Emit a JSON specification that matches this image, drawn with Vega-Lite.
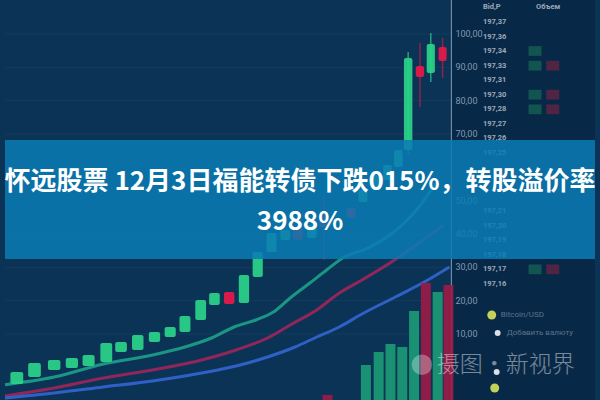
{
  "$schema": "https://vega.github.io/schema/vega-lite/v6.json",
  "width": 600,
  "height": 400,
  "autosize": {"type": "none"},
  "padding": 0,
  "background": "#0b3356",
  "config": {"view": {"stroke": null}},
  "data": {"values": [{"one": 1}]},
  "datasets": {
    "candles": [
      {"t": 12, "open": -5.0, "close": -1.4, "dir": "up"},
      {"t": 30, "open": -2.9, "close": 1.3, "dir": "up"},
      {"t": 50, "open": -0.8, "close": 2.2, "dir": "up"},
      {"t": 68, "open": -0.2, "close": 2.8, "dir": "up"},
      {"t": 85, "open": 0.4, "close": 3.7, "dir": "up"},
      {"t": 103, "open": 1.6, "close": 7.3, "dir": "up"},
      {"t": 118, "open": 4.6, "close": 7.6, "dir": "up"},
      {"t": 135, "open": 5.2, "close": 9.7, "dir": "up"},
      {"t": 152, "open": 7.6, "close": 10.6, "dir": "up"},
      {"t": 168, "open": 9.1, "close": 12.1, "dir": "up"},
      {"t": 183, "open": 10.6, "close": 15.4, "dir": "up"},
      {"t": 199, "open": 14.2, "close": 20.2, "dir": "up"},
      {"t": 213, "open": 18.7, "close": 22.3, "dir": "up"},
      {"t": 228, "open": 22.6, "close": 19.0, "dir": "down"},
      {"t": 243, "open": 19.3, "close": 27.7, "dir": "up"},
      {"t": 257, "open": 27.1, "close": 34.6, "dir": "up"},
      {"t": 271, "open": 34.6, "close": 40.3, "dir": "up"},
      {"t": 285, "open": 38.2, "close": 41.2, "dir": "up"},
      {"t": 298, "open": 41.8, "close": 38.2, "dir": "down"},
      {"t": 312, "open": 38.8, "close": 42.7, "dir": "up"},
      {"t": 324, "open": 46.0, "close": 42.0, "dir": "down", "low": 32.2, "high": 51.7},
      {"t": 352, "open": 47.8, "close": 44.8, "dir": "down"},
      {"t": 364, "open": 49.6, "close": 53.2, "dir": "up"},
      {"t": 378, "open": 53.2, "close": 57.7, "dir": "up"},
      {"t": 389, "open": 56.2, "close": 60.7, "dir": "up"},
      {"t": 400, "open": 60.1, "close": 65.2, "dir": "up"},
      {"t": 410, "open": 65.2, "close": 92.8, "dir": "up", "low": 64.0, "high": 94.6},
      {"t": 422, "open": 90.4, "close": 87.1, "dir": "down", "low": 78.1, "high": 97.3},
      {"t": 433, "open": 88.3, "close": 97.0, "dir": "up", "low": 85.6, "high": 100.3},
      {"t": 445, "open": 96.1, "close": 91.9, "dir": "down", "low": 86.8, "high": 98.8}
    ],
    "ma": [
      {"s": "MA5", "t": 0, "v": -5.2}, {"s": "MA5", "t": 50, "v": -2.9}, {"s": "MA5", "t": 100, "v": 1.0},
      {"s": "MA5", "t": 150, "v": 3.7}, {"s": "MA5", "t": 183, "v": 6.1}, {"s": "MA5", "t": 210, "v": 8.8},
      {"s": "MA5", "t": 233, "v": 12.1}, {"s": "MA5", "t": 255, "v": 14.2}, {"s": "MA5", "t": 273, "v": 16.6},
      {"s": "MA5", "t": 290, "v": 20.8}, {"s": "MA5", "t": 310, "v": 25.3}, {"s": "MA5", "t": 327, "v": 29.2},
      {"s": "MA5", "t": 345, "v": 33.1}, {"s": "MA5", "t": 367, "v": 35.5}, {"s": "MA5", "t": 387, "v": 38.8},
      {"s": "MA5", "t": 405, "v": 43.0}, {"s": "MA5", "t": 421, "v": 48.1}, {"s": "MA5", "t": 440, "v": 56.2},
      {"s": "MA10", "t": 0, "v": -8.6}, {"s": "MA10", "t": 50, "v": -6.2}, {"s": "MA10", "t": 100, "v": -3.2},
      {"s": "MA10", "t": 150, "v": -0.8}, {"s": "MA10", "t": 200, "v": 2.2}, {"s": "MA10", "t": 235, "v": 5.2},
      {"s": "MA10", "t": 267, "v": 8.8}, {"s": "MA10", "t": 290, "v": 12.7}, {"s": "MA10", "t": 317, "v": 17.2},
      {"s": "MA10", "t": 340, "v": 22.3}, {"s": "MA10", "t": 363, "v": 26.2}, {"s": "MA10", "t": 393, "v": 31.6},
      {"s": "MA10", "t": 421, "v": 37.3}, {"s": "MA10", "t": 446, "v": 42.7},
      {"s": "MA20", "t": 0, "v": -9.2}, {"s": "MA20", "t": 50, "v": -7.7}, {"s": "MA20", "t": 100, "v": -5.9},
      {"s": "MA20", "t": 150, "v": -4.1}, {"s": "MA20", "t": 200, "v": -1.7}, {"s": "MA20", "t": 235, "v": 0.4},
      {"s": "MA20", "t": 267, "v": 3.1}, {"s": "MA20", "t": 295, "v": 6.1}, {"s": "MA20", "t": 317, "v": 9.1},
      {"s": "MA20", "t": 340, "v": 12.1}, {"s": "MA20", "t": 363, "v": 16.0}, {"s": "MA20", "t": 397, "v": 21.1},
      {"s": "MA20", "t": 430, "v": 26.2}, {"s": "MA20", "t": 452, "v": 30.1}
    ],
    "volume": [
      {"t": 328, "v": -8.3, "dir": "down"},
      {"t": 367, "v": 0.7, "dir": "up"},
      {"t": 380, "v": 4.6, "dir": "up"},
      {"t": 392, "v": 7.0, "dir": "up"},
      {"t": 404, "v": 6.1, "dir": "up"},
      {"t": 416, "v": 16.9, "dir": "up"},
      {"t": 428, "v": 25.3, "dir": "down"},
      {"t": 440, "v": 22.6, "dir": "up"},
      {"t": 451, "v": 24.7, "dir": "down"}
    ],
    "yticks": [
      {"t": 454, "v": 10, "lab": "10,00"},
      {"t": 454, "v": 20, "lab": "20,00"},
      {"t": 454, "v": 30, "lab": "30,00"},
      {"t": 454, "v": 40, "lab": "40,00"},
      {"t": 454, "v": 50, "lab": "50,00"},
      {"t": 454, "v": 70, "lab": "70,00"},
      {"t": 454, "v": 80, "lab": "80,00"},
      {"t": 454, "v": 90, "lab": "90,00"},
      {"t": 454, "v": 100, "lab": "100,00"}
    ],
    "book": [
      {"t": 486, "v": 108.1, "p": "Bid,P"},
      {"t": 486, "v": 103.6, "p": "197,37"},
      {"t": 486, "v": 99.2, "p": "197,36"},
      {"t": 486, "v": 94.9, "p": "197,34"},
      {"t": 486, "v": 90.5, "p": "197,33"},
      {"t": 486, "v": 86.1, "p": "197,31"},
      {"t": 486, "v": 81.8, "p": "197,30"},
      {"t": 486, "v": 77.4, "p": "197,28"},
      {"t": 486, "v": 73.0, "p": "197,27"},
      {"t": 486, "v": 68.7, "p": "197,26"},
      {"t": 486, "v": 64.3, "p": "197,25"},
      {"t": 486, "v": 46.8, "p": "197,21"},
      {"t": 486, "v": 42.5, "p": "197,20"},
      {"t": 486, "v": 38.1, "p": "197,19"},
      {"t": 486, "v": 33.8, "p": "197,18"},
      {"t": 486, "v": 29.4, "p": "197,17"},
      {"t": 486, "v": 25.0, "p": "197,16"},
      {"t": 540, "v": 108.1, "p": "Объем"}
    ],
    "blocks": [
      {"t": 539, "v": 94.9, "side": "bid"},
      {"t": 539, "v": 90.5, "side": "bid"},
      {"t": 539, "v": 81.8, "side": "bid"},
      {"t": 539, "v": 77.4, "side": "bid"},
      {"t": 539, "v": 29.4, "side": "bid"},
      {"t": 557, "v": 90.5, "side": "ask"},
      {"t": 557, "v": 81.8, "side": "ask"},
      {"t": 557, "v": 77.4, "side": "ask"},
      {"t": 557, "v": 29.4, "side": "ask"}
    ],
    "dots": [
      {"t": 495, "v": 15.7, "kind": "y", "label": "Bitcoin/USD"},
      {"t": 501, "v": 10.3, "kind": "w", "label": "Добавить валюту"},
      {"t": 500, "v": -1.4, "kind": "w", "label": ""},
      {"t": 498, "v": -6.2, "kind": "y", "label": ""}
    ],
    "title": [
      {"line": "怀远股票 12月3日福能转债下跌015%，转股溢价率", "v": 55.6},
      {"line": "3988%", "v": 43.6}
    ],
    "axisline": [
      {"t": 454, "lo": -9.8, "hi": 110.2}
    ]
  },
  "layer": [
    {
      "data": {"name": "axisline"},
      "mark": {"type": "rect", "color": "#04142a", "opacity": 0.35},
      "encoding": {
        "x": {"field": "t", "type": "quantitative", "scale": {"domain": [0, 600], "nice": false, "zero": false}, "axis": null},
        "x2": {"datum": 600},
        "y": {"field": "hi", "type": "quantitative", "title": null, "scale": {"domain": [-9.8, 110.2], "nice": false, "zero": false}, "axis": null},
        "y2": {"field": "lo"}
      }
    },
    {
      "data": {"name": "yticks"},
      "mark": {"type": "rule", "color": "#ffffff", "opacity": 0.045, "strokeWidth": 1},
      "encoding": {
        "x": {"datum": 0, "type": "quantitative", "axis": null},
        "x2": {"datum": 454},
        "y": {"field": "v", "type": "quantitative", "title": null, "axis": null}
      }
    },
    {
      "data": {"name": "axisline"},
      "mark": {"type": "rule", "color": "#7d93ad", "strokeWidth": 1.2, "opacity": 0.9},
      "encoding": {
        "x": {"field": "t", "type": "quantitative", "axis": null},
        "y": {"field": "hi", "type": "quantitative", "title": null, "axis": null},
        "y2": {"field": "lo"}
      }
    },
    {
      "data": {"name": "ma"},
      "mark": {"type": "line", "strokeWidth": 3, "opacity": 0.85, "interpolate": "monotone"},
      "encoding": {
        "x": {"field": "t", "type": "quantitative", "axis": null},
        "y": {"field": "v", "type": "quantitative", "title": null, "axis": null},
        "color": {"field": "s", "type": "nominal", "scale": {"domain": ["MA5", "MA10", "MA20"], "range": ["#1ea88c", "#a8245a", "#3568d8"]}, "legend": null}
      }
    },
    {
      "data": {"name": "volume"},
      "mark": {"type": "bar", "size": 10, "opacity": 0.9},
      "encoding": {
        "x": {"field": "t", "type": "quantitative", "axis": null},
        "y": {"field": "v", "type": "quantitative", "title": null, "axis": null},
        "y2": {"datum": -9.8},
        "color": {"field": "dir", "type": "nominal", "scale": {"domain": ["up", "down"], "range": ["#1c9b77", "#9c1c46"]}, "legend": null}
      }
    },
    {
      "data": {"name": "candles"},
      "transform": [{"filter": "isValid(datum.low)"}],
      "mark": {"type": "rule", "strokeWidth": 1.5, "opacity": 0.7},
      "encoding": {
        "x": {"field": "t", "type": "quantitative", "axis": null},
        "y": {"field": "low", "type": "quantitative", "title": null, "axis": null},
        "y2": {"field": "high"},
        "color": {"field": "dir", "type": "nominal", "scale": {"domain": ["up", "down"], "range": ["#2bd184", "#c81b48"]}, "legend": null}
      }
    },
    {
      "data": {"name": "candles"},
      "mark": {"type": "bar", "cornerRadius": 2, "opacity": 0.92},
      "encoding": {
        "x": {"field": "t", "type": "quantitative", "axis": null},
        "y": {"field": "open", "type": "quantitative", "title": null, "axis": null},
        "y2": {"field": "close"},
        "size": {"field": "t", "type": "quantitative", "scale": {"domain": [0, 450], "range": [13, 8]}, "legend": null},
        "color": {"field": "dir", "type": "nominal", "scale": {"domain": ["up", "down"], "range": ["#2bd48a", "#e8194a"]}, "legend": null}
      }
    },
    {
      "data": {"name": "yticks"},
      "mark": {"type": "text", "align": "left", "baseline": "middle", "dx": 4, "font": "Roboto", "fontSize": 9, "color": "#8ea4bb", "opacity": 0.9},
      "encoding": {
        "x": {"field": "t", "type": "quantitative", "axis": null},
        "y": {"field": "v", "type": "quantitative", "title": null, "axis": null},
        "text": {"field": "lab"}
      }
    },
    {
      "data": {"name": "blocks"},
      "mark": {"type": "point", "shape": "M-1,-0.75H1V0.75H-1Z", "filled": true, "size": 169, "opacity": 0.45},
      "encoding": {
        "x": {"field": "t", "type": "quantitative", "axis": null},
        "y": {"field": "v", "type": "quantitative", "title": null, "axis": null},
        "color": {"field": "side", "type": "nominal", "scale": {"domain": ["bid", "ask"], "range": ["#1f8a5a", "#a8203e"]}, "legend": null}
      }
    },
    {
      "data": {"name": "book"},
      "mark": {"type": "text", "align": "left", "baseline": "middle", "font": "Roboto", "fontSize": 7.5, "fontWeight": "bold", "color": "#c9d3de", "opacity": 0.75},
      "encoding": {
        "x": {"field": "t", "type": "quantitative", "axis": null},
        "y": {"field": "v", "type": "quantitative", "title": null, "axis": null},
        "text": {"field": "p"}
      }
    },
    {
      "data": {"name": "dots"},
      "mark": {"type": "point", "filled": true, "shape": "circle", "opacity": 0.9},
      "encoding": {
        "x": {"field": "t", "type": "quantitative", "axis": null},
        "y": {"field": "v", "type": "quantitative", "title": null, "axis": null},
        "size": {"field": "kind", "type": "nominal", "scale": {"domain": ["y", "w"], "range": [80, 35]}, "legend": null},
        "color": {"field": "kind", "type": "nominal", "scale": {"domain": ["y", "w"], "range": ["#d9e35a", "#f2f4f6"]}, "legend": null}
      }
    },
    {
      "data": {"name": "dots"},
      "mark": {"type": "text", "align": "left", "baseline": "middle", "dx": 9, "font": "Roboto", "fontSize": 8, "color": "#9fb0c2", "opacity": 0.55},
      "encoding": {
        "x": {"field": "t", "type": "quantitative", "axis": null},
        "y": {"field": "v", "type": "quantitative", "title": null, "axis": null},
        "text": {"field": "label"}
      }
    },
    {
      "mark": {"type": "rect", "color": "#0a7cb3", "opacity": 0.86},
      "encoding": {
        "x": {"datum": 0, "type": "quantitative", "axis": null},
        "x2": {"datum": 600},
        "y": {"datum": 68.2, "type": "quantitative", "title": null, "axis": null},
        "y2": {"datum": 32.5}
      }
    },
    {
      "data": {"name": "title"},
      "mark": {"type": "text", "align": "center", "baseline": "middle", "font": "Noto Sans CJK SC", "fontSize": 26, "fontWeight": "bold", "color": "#ffffff"},
      "encoding": {
        "x": {"datum": 300, "type": "quantitative", "axis": null},
        "y": {"field": "v", "type": "quantitative", "title": null, "axis": null},
        "text": {"field": "line"}
      }
    },
    {
      "mark": {"type": "point", "shape": "circle", "filled": true, "size": 420, "color": "#ffffff", "opacity": 0.3},
      "encoding": {
        "x": {"datum": 424, "type": "quantitative", "axis": null},
        "y": {"datum": 0.8, "type": "quantitative", "title": null, "axis": null}
      }
    },
    {
      "mark": {"type": "text", "align": "left", "baseline": "middle", "font": "Noto Sans CJK SC", "fontSize": 23, "fontWeight": 300, "color": "#ffffff", "opacity": 0.45, "text": "摄图·新视界"},
      "encoding": {
        "x": {"datum": 439, "type": "quantitative", "axis": null},
        "y": {"datum": 0.8, "type": "quantitative", "title": null, "axis": null}
      }
    }
  ],
  "resolve": {"scale": {"color": "independent", "size": "independent"}}
}
